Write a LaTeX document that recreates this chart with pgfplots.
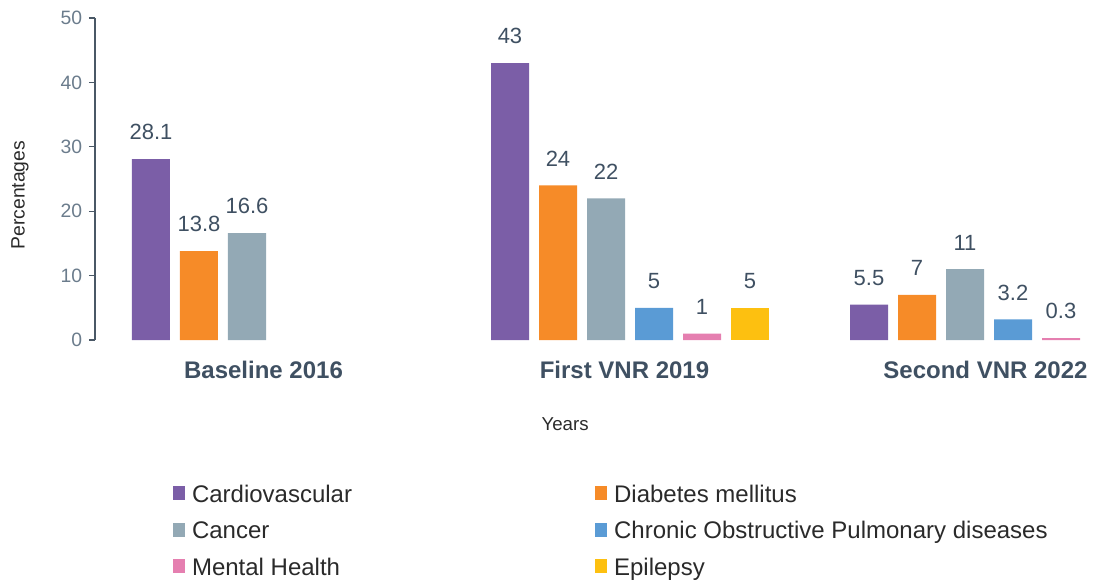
\documentclass[border=0pt]{standalone}
\usepackage{pgfplots}
\pgfplotsset{compat=1.18}
\usepackage{fontspec}
\setmainfont{Liberation Sans}
\definecolor{cpurple}{HTML}{7B5EA7}
\definecolor{corange}{HTML}{F68B28}
\definecolor{cgrey}{HTML}{93A9B5}
\definecolor{cblue}{HTML}{5A9BD5}
\definecolor{cpink}{HTML}{E57FB0}
\definecolor{cyellow}{HTML}{FDC010}
\definecolor{axiscol}{HTML}{4A5866}
\definecolor{ticklab}{HTML}{6B7C8C}
\definecolor{vallab}{HTML}{3F5062}
\definecolor{txt}{HTML}{2A2A2A}
\begin{document}
\begin{tikzpicture}
\useasboundingbox (-71.25pt,-181.5pt) rectangle (748.5pt,255pt);
\begin{axis}[
  at={(0pt,0pt)}, anchor=south west,
  scale only axis, width=748.5pt, height=241.5pt,
  xmin=95, xmax=1093, ymin=0, ymax=50,
  clip=false,
  ybar, bar width=38, bar shift=0pt,
  axis y line*=left, axis x line*=bottom,
  x axis line style={draw=none},
  y axis line style={-, draw=axiscol, line width=0.9pt},
  ytick={0,10,...,50},
  ytick style={draw=axiscol, line width=0.9pt},
  tick align=outside, major tick length=4.5pt,
  xtick={263.5,624.5,985.5},
  xticklabels={Baseline 2016, First VNR 2019, Second VNR 2022},
  xtick style={draw=none},
  xticklabel style={font=\fontsize{18}{20}\selectfont\bfseries, text=vallab, anchor=base, yshift=-24pt, inner sep=0pt},
  yticklabel style={font=\fontsize{14.5}{16}\selectfont, text=ticklab, anchor=east, inner sep=0pt, xshift=-5pt},
  /pgf/number format/assume math mode=true,
  xlabel={Years},
  xlabel style={at={(axis description cs:0.471,-0.261)}, anchor=center, font=\fontsize{14}{16}\selectfont, text=txt},
  ylabel={Percentages},
  ylabel style={at={(axis description cs:-0.0752,0.450)}, anchor=center, font=\fontsize{14.5}{16}\selectfont, text=txt},
  point meta=explicit symbolic,
  nodes near coords,
  every node near coord/.append style={font=\fontsize{16.5}{18}\selectfont, text=vallab, anchor=south, inner sep=0pt, yshift=14pt},
  legend columns=2,
  legend cell align=left,
  legend style={at={(axis description cs:0.0782,-0.4506)}, anchor=north west, draw=none, fill=none, inner sep=0pt, outer sep=0pt,
    font=\fontsize{18}{20}\selectfont, text=txt, row sep=10.4pt,
    nodes={inner sep=0pt, text height=13pt, text depth=4pt},
    /tikz/every odd column/.append style={column sep=5.25pt},
    /tikz/every even column/.append style={column sep=182.25pt}},
  legend image code/.code={\fill[#1, draw=none] (0pt,-3pt) rectangle (9pt,7.5pt);},
]
\addplot[fill=cpurple, draw=none] coordinates {(151,28.1)[28.1] (510,43)[43] (869,5.5)[5.5]};
\addlegendentry{Cardiovascular}
\addplot[fill=corange, draw=none] coordinates {(199,13.8)[13.8] (558,24)[24] (917,7)[7]};
\addlegendentry{Diabetes mellitus}
\addplot[fill=cgrey, draw=none] coordinates {(247,16.6)[16.6] (606,22)[22] (965,11)[11]};
\addlegendentry{Cancer}
\addplot[fill=cblue, draw=none] coordinates {(654,5)[5] (1013,3.2)[3.2]};
\addlegendentry{Chronic Obstructive Pulmonary diseases}
\addplot[fill=cpink, draw=none] coordinates {(702,1)[1] (1061,0.3)[0.3]};
\addlegendentry{Mental Health}
\addplot[fill=cyellow, draw=none] coordinates {(750,5)[5]};
\addlegendentry{Epilepsy}
\end{axis}
\end{tikzpicture}
\end{document}
